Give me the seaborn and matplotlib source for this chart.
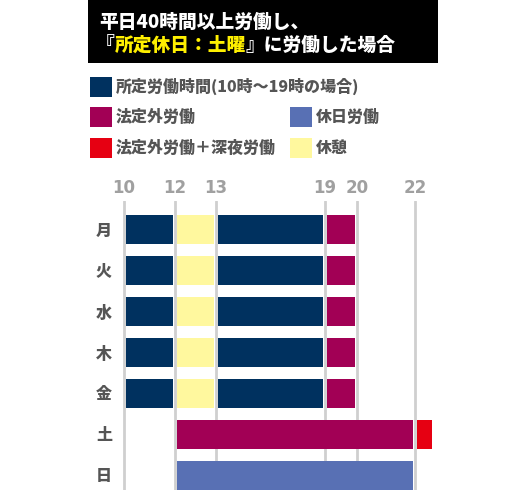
import numpy as np
import pandas as pd
import matplotlib
matplotlib.use("Agg")
import matplotlib.pyplot as plt
from matplotlib.patches import Rectangle
import seaborn as sns

# ---- data -------------------------------------------------------------
day_labels = ['月', '火', '水', '木', '金', '土', '日']
weekdays = ['月', '火', '水', '木', '金']

# weekday blocks (same for 月〜金)
weekday_starts = [10, 12, 13, 19]
weekday_ends = [12, 13, 19, 20]
weekday_kinds = ['所定', '休憩', '所定', '法定外']

# saturday (所定休日) and sunday (法定休日)
sat_starts = [12, 22]
sat_ends = [22, 22.65]
sat_kinds = ['法定外', '深夜']
sun_starts = [12]
sun_ends = [22]
sun_kinds = ['休日']

hour_ticks = [10, 12, 13, 19, 20, 22]

legend_labels = ['所定労働時間(10時〜19時の場合)', '法定外労働', '法定外労働＋深夜労働',
                 '休日労働', '休憩']
legend_kinds = ['所定', '法定外', '深夜', '休日', '休憩']

title_line1 = '平日40時間以上労働し、'
title_line2 = ['『', '所定休日：土曜', '』に労働した場合']

# ---- style ------------------------------------------------------------
colors = {
    '所定': '#00315f',
    '休憩': '#fff89e',
    '法定外': '#a20055',
    '深夜': '#e60012',
    '休日': '#5870b4',
}
GRID = '#cfcfcf'
TEXT = '#555555'
TICK = '#a0a0a0'

# the time axis of the original is not linear: knots hour -> pixel
hour_knots = [0, 10, 12, 13, 19, 20, 22, 30]
px_knots = [-126.3, 123.7, 174.7, 215.7, 324.7, 356.7, 415.0, 648.2]


def fwd(h):
    return np.interp(h, hour_knots, px_knots)


def inv(p):
    return np.interp(p, px_knots, hour_knots)


GAP = 2.0  # white gap (px) at both ends of each block

W, H = 518, 496
sns.set_theme(style='white')
plt.rcParams['font.family'] = ['Noto Sans CJK JP', 'DejaVu Sans']

fig = plt.figure(figsize=(W / 100, H / 100), dpi=100)
ax = fig.add_axes([116 / W, 6 / H, 318 / W, 289 / H])

# build block table
rows = []
for i, (s, e, k) in enumerate(zip(weekday_starts, weekday_ends, weekday_kinds)):
    for d in weekdays:
        rows.append(dict(day=d, start=s, end=e, kind=k, group=f'wd{i}'))
for i, (s, e, k) in enumerate(zip(sat_starts, sat_ends, sat_kinds)):
    rows.append(dict(day='土', start=s, end=e, kind=k, group=f'sat{i}'))
for i, (s, e, k) in enumerate(zip(sun_starts, sun_ends, sun_kinds)):
    rows.append(dict(day='日', start=s, end=e, kind=k, group=f'sun{i}'))
blocks = pd.DataFrame(rows)
blocks['left'] = inv(fwd(blocks['start']) + GAP)
blocks['width'] = inv(fwd(blocks['end']) - GAP) - blocks['left']

for grp, sub in blocks.groupby('group', sort=False):
    sns.barplot(data=sub, y='day', x='width', order=day_labels, orient='y',
                left=sub['left'].to_numpy(), color=colors[sub['kind'].iloc[0]],
                saturation=1, width=0.707, errorbar=None, linewidth=0,
                ax=ax, zorder=3)

ax.set_xscale('function', functions=(fwd, inv))
ax.set_xlim(inv(116), inv(434))
ax.set_ylim(6.354, -0.695)
ax.set_xlabel('')
ax.set_ylabel('')

ax.xaxis.tick_top()
ax.set_xticks(hour_ticks)
ax.set_xticklabels([str(t) for t in hour_ticks])
ax.xaxis.set_minor_locator(matplotlib.ticker.NullLocator())
ax.tick_params(axis='x', length=0, pad=3, labelcolor=TICK)
ax.tick_params(axis='y', length=0, pad=3, labelsize=11.5, labelcolor=TEXT)
for lab in ax.get_xticklabels():
    lab.set_fontfamily('DejaVu Sans')
    lab.set_fontweight('bold')
    lab.set_fontsize(12)
for lab in ax.get_yticklabels():
    lab.set_fontweight('black')
ax.grid(True, axis='x', color=GRID, linewidth=2.0)
ax.grid(False, axis='y')
ax.set_axisbelow(True)
for sp in ax.spines.values():
    sp.set_visible(False)
ax.patch.set_alpha(0)

# ---- header: title box and legend (pixel coordinates) ------------------
hdr = fig.add_axes([0, 0, 1, 1], zorder=5)
hdr.set_xlim(0, W)
hdr.set_ylim(H, 0)
hdr.axis('off')
hdr.patch.set_alpha(0)

hdr.add_patch(Rectangle((88, 0), 350, 63, color='black', lw=0))
hdr.text(99, 22, title_line1, color='white', fontsize=13.5, fontweight='black',
         va='center', ha='left')
prev = hdr.text(96, 45, title_line2[0], color='white', fontsize=13.5,
                fontweight='black', va='center', ha='left')
for piece, col in zip(title_line2[1:], ['#fff000', 'white']):
    prev = hdr.annotate(piece, xy=(1, 0), xycoords=prev, va='bottom', ha='left',
                        color=col, fontsize=13.5, fontweight='black')

legend_pos = [(90, 86.5), (90, 117), (90, 148), (290, 117), (290, 148)]
for (x, y), lab, k in zip(legend_pos, legend_labels, legend_kinds):
    hdr.add_patch(Rectangle((x, y - 10), 22, 20, color=colors[k], lw=0))
    hdr.text(x + 26, y, lab, color=TEXT, fontsize=11.5, fontweight='black',
             va='center', ha='left')

fig.savefig('out.png', dpi=100)
